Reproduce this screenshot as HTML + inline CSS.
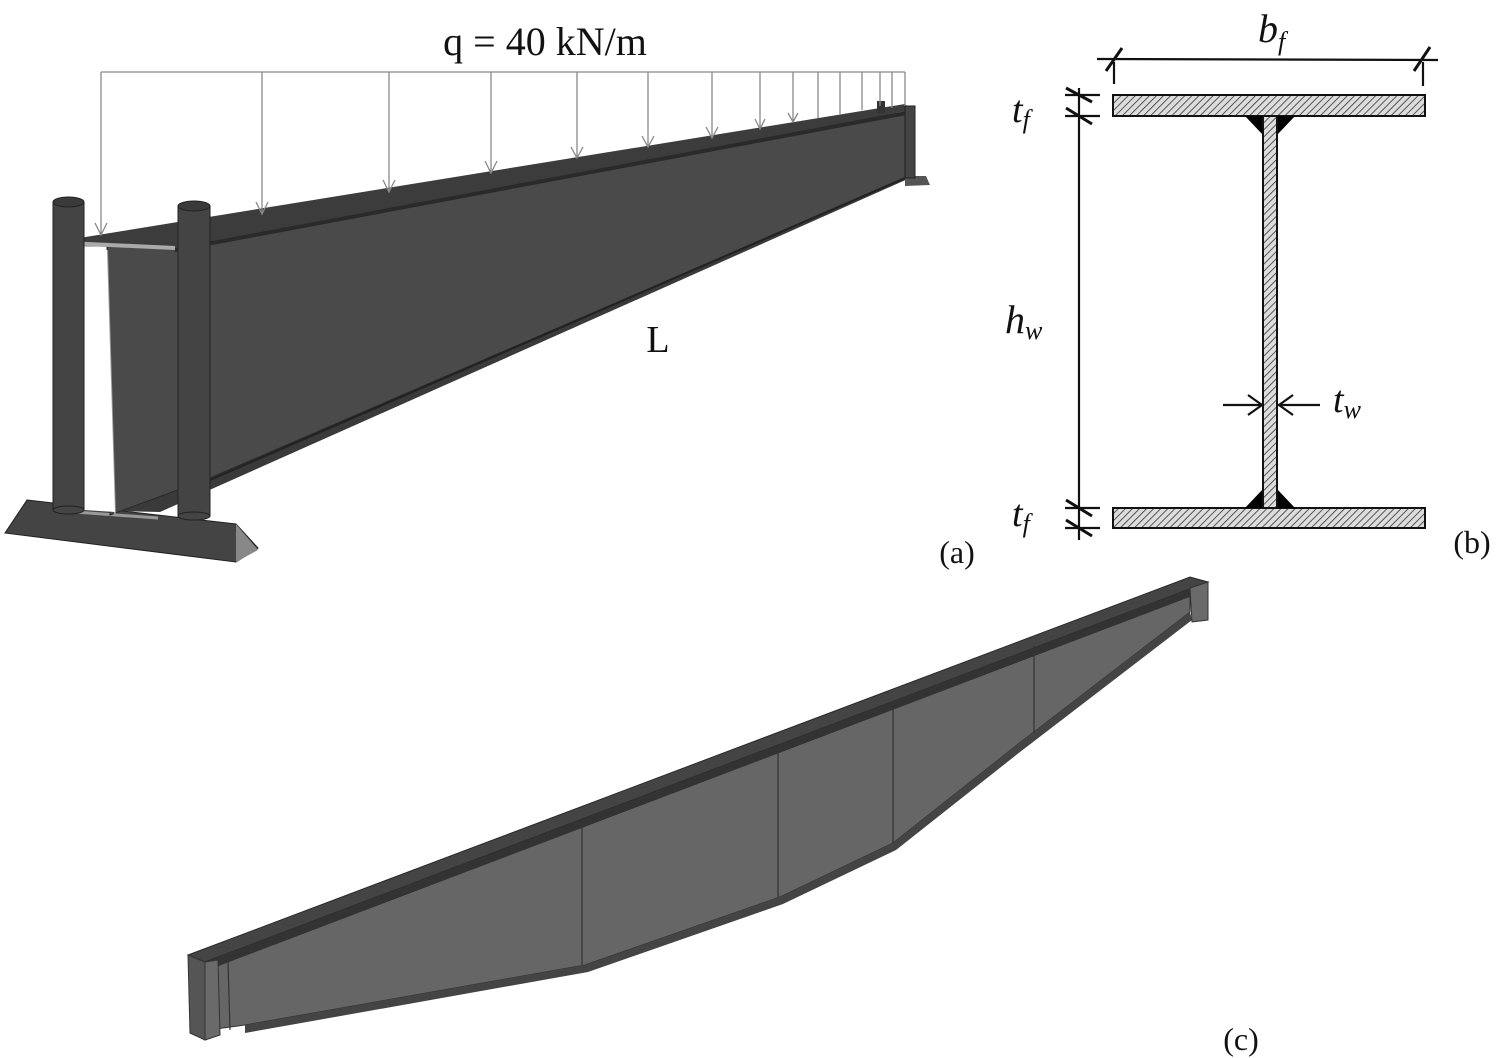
<!DOCTYPE html>
<html><head><meta charset="utf-8"><style>
body{margin:0;background:#fff}
svg{display:block}
text{font-family:"Liberation Serif",serif;fill:#111}
</style></head><body>
<svg width="1499" height="1058" viewBox="0 0 1499 1058" xmlns="http://www.w3.org/2000/svg">
<defs>
<pattern id="h" width="5" height="5" patternUnits="userSpaceOnUse" patternTransform="rotate(45)">
<rect width="5" height="5" fill="#ddd"/><line x1="0" y1="0" x2="0" y2="5" stroke="#333" stroke-width="1.6"/>
</pattern>
</defs>
<!-- (a) -->
<polygon points="27,500 236,524 258,548 236,562 5,533" fill="#444" stroke="#222"/>
<polygon points="236,524 258,550 236,562" fill="#888"/>
<polygon points="75,510 160,512 910,178 905,176" fill="#3a3a3a"/>
<line x1="75" y1="512" x2="158" y2="518" stroke="#999" stroke-width="3"/>
<polygon points="107,247 905,112 905,178 210,478 110,515" fill="#4a4a4a" stroke="#2a2a2a"/>
<line x1="107" y1="250" x2="115" y2="515" stroke="#999" stroke-width="2"/>
<polygon points="84,250 107,250 115,512 84,510" fill="#fff"/>
<polygon points="67,240 905,104 912,110 175,248 67,246" fill="#3c3c3c"/>
<polygon points="175,248 912,110 912,114 175,252" fill="#2a2a2a"/>
<line x1="67" y1="243" x2="175" y2="248" stroke="#aaa" stroke-width="4"/>
<line x1="210" y1="480" x2="905" y2="178" stroke="#222" stroke-width="2"/>
<rect x="53" y="202" width="31" height="308" fill="#444" stroke="#222"/>
<ellipse cx="68.5" cy="202" rx="15.5" ry="5" fill="#3a3a3a" stroke="#222"/>
<ellipse cx="68.5" cy="510" rx="15.5" ry="4" fill="#444" stroke="#222"/>
<rect x="178" y="206" width="32" height="310" fill="#444" stroke="#222"/>
<ellipse cx="194" cy="206" rx="16" ry="5" fill="#3a3a3a" stroke="#222"/>
<ellipse cx="194" cy="516" rx="16" ry="4" fill="#444" stroke="#222"/>
<polygon points="905,176 926,176 930,185 905,186" fill="#555"/>
<rect x="905" y="106" width="10" height="72" fill="#444" stroke="#222"/>
<rect x="877" y="101" width="8" height="12" fill="#333"/>
<g stroke="#888" stroke-width="1.3" fill="none">
<line x1="101" y1="72" x2="905" y2="72"/>
<path d="M101,72V235M95,223L101,235L107,223"/>
<path d="M262,72V214M256,202L262,214L268,202"/>
<path d="M389,72V192M383,180L389,192L395,180"/>
<path d="M491,72V173M485,161L491,173L497,161"/>
<path d="M577,72V158M571,147L577,158L583,147"/>
<path d="M648,72V147M642,136L648,147L654,136"/>
<path d="M712,72V138M706,127L712,138L718,127"/>
<path d="M760,72V129M755,119L760,129L765,119"/>
<path d="M793,72V122M788,113L793,122L798,113"/>
<path d="M818,72V118"/><path d="M840,72V114"/><path d="M862,72V110"/>
<path d="M880,72V106"/><path d="M892,72V108"/><path d="M905,72V106"/>
</g>
<text x="545" y="55" font-size="40" text-anchor="middle">q = 40 kN/m</text>
<text x="658" y="352" font-size="38" text-anchor="middle">L</text>
<text x="957" y="563" font-size="32" text-anchor="middle">(a)</text>
<!-- (b) -->
<rect x="1113" y="95" width="312" height="21" fill="url(#h)" stroke="#111" stroke-width="2"/>
<rect x="1113" y="508" width="312" height="20" fill="url(#h)" stroke="#111" stroke-width="2"/>
<polygon points="1245,116 1295,116 1277,135 1263,135" fill="#000"/>
<polygon points="1245,508 1295,508 1277,489 1263,489" fill="#000"/>
<rect x="1263" y="116" width="14" height="392" fill="url(#h)" stroke="#111" stroke-width="2"/>
<g stroke="#111" stroke-width="2.2" fill="none">
<line x1="1097" y1="59" x2="1438" y2="60"/>
<line x1="1114" y1="62" x2="1114" y2="84"/><line x1="1423" y1="62" x2="1423" y2="86"/>
<line x1="1106" y1="71" x2="1122" y2="48" stroke-width="3"/><line x1="1414" y1="71" x2="1430" y2="47" stroke-width="3"/>
<line x1="1079" y1="88" x2="1079" y2="540"/>
<line x1="1065" y1="95" x2="1100" y2="95"/><line x1="1065" y1="116" x2="1100" y2="116"/>
<line x1="1065" y1="508" x2="1100" y2="508"/><line x1="1065" y1="528" x2="1100" y2="528"/>
<line x1="1066" y1="88" x2="1092" y2="102" stroke-width="3"/><line x1="1066" y1="108" x2="1092" y2="124" stroke-width="3"/>
<line x1="1066" y1="500" x2="1092" y2="516" stroke-width="3"/><line x1="1066" y1="520" x2="1092" y2="536" stroke-width="3"/>
<line x1="1223" y1="405" x2="1262" y2="405"/><path d="M1248,395L1262,405L1248,415"/>
<line x1="1278" y1="405" x2="1320" y2="405"/><path d="M1293,395L1279,405L1293,415"/>
</g>
<text x="1258" y="42" font-size="40" font-style="italic">b<tspan font-size="26" dy="8">f</tspan></text>
<text x="1012" y="122" font-size="38" font-style="italic">t<tspan font-size="26" dy="6">f</tspan></text>
<text x="1012" y="526" font-size="38" font-style="italic">t<tspan font-size="26" dy="6">f</tspan></text>
<text x="1005" y="333" font-size="40" font-style="italic">h<tspan font-size="26" dy="6">w</tspan></text>
<text x="1333" y="412" font-size="38" font-style="italic">t<tspan font-size="26" dy="6">w</tspan></text>
<text x="1472" y="553" font-size="32" text-anchor="middle">(b)</text>
<!-- (c) -->
<polygon points="208,965 1190,590 1190,612 1017,745 893,843 780,897 585,965 245,1025 208,1030" fill="#666" stroke="#333"/>
<polygon points="245,1025 585,965 780,897 893,843 1017,745 1190,612 1192,620 1020,752 896,850 783,904 588,972 245,1033" fill="#444"/>
<polygon points="188,955 1190,577 1208,582 205,962" fill="#444" stroke="#2a2a2a"/>
<polygon points="205,962 1208,582 1208,590 208,970" fill="#333"/>
<polygon points="188,955 205,962 205,1040 190,1033" fill="#555" stroke="#333"/>
<polygon points="205,962 218,960 220,1035 205,1040" fill="#6a6a6a" stroke="#333"/>
<line x1="228" y1="962" x2="230" y2="1030" stroke="#333" stroke-width="1.2"/>
<polygon points="1190,588 1208,582 1208,620 1192,622" fill="#6a6a6a" stroke="#333"/>
<g stroke="#333" stroke-width="1.2">
<line x1="582" y1="826" x2="582" y2="965"/>
<line x1="778" y1="750" x2="778" y2="897"/>
<line x1="893" y1="706" x2="893" y2="843"/>
<line x1="1034" y1="646" x2="1034" y2="733"/>
</g>
<text x="1241" y="1050" font-size="32" text-anchor="middle">(c)</text>
</svg>
</body></html>
